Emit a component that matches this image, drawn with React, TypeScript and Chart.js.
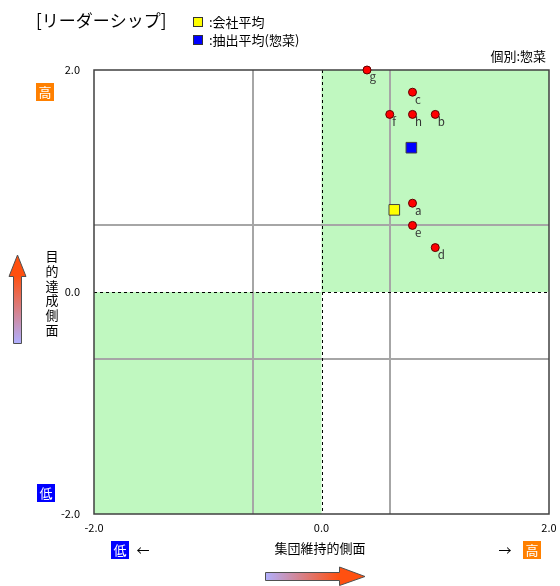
import React, { useEffect, useRef } from 'react';
import { Chart, registerables } from 'chart.js';

Chart.register(...registerables);

const FONT = '"Noto Sans CJK JP", "Noto Sans", sans-serif';

// ---- data ----
const pointLabels = ['a', 'b', 'c', 'd', 'e', 'f', 'g', 'h'];
const pointX = [0.8, 1.0, 0.8, 1.0, 0.8, 0.6, 0.4, 0.8];
const pointY = [0.8, 1.6, 1.8, 0.4, 0.6, 1.6, 2.0, 1.6];
const companyAvg = { x: 0.64, y: 0.74 };
const extractAvg = { x: 0.79, y: 1.3 };
const refLines = [-0.6, 0.6];
const axisTicks = [-2, 0, 2];

const titleText = '[リーダーシップ]';
const legendCompany = ':会社平均';
const legendExtract = ':抽出平均(惣菜)';
const subsetText = '個別:惣菜';
const yAxisTitle = ['目', '的', '達', '成', '側', '面'];
const xAxisTitle = '集団維持的側面';

const decorPlugin = {
  id: 'decor',
  beforeDatasetsDraw(chart: any) {
    const ctx = chart.ctx as CanvasRenderingContext2D;
    const { left, right, top, bottom } = chart.chartArea;
    const xs = chart.scales.x;
    const ys = chart.scales.y;
    const x0 = xs.getPixelForValue(0);
    const y0 = ys.getPixelForValue(0);
    ctx.save();
    ctx.fillStyle = '#ffffff';
    ctx.fillRect(left, top, right - left, bottom - top);
    ctx.fillStyle = '#c0f8c0';
    ctx.fillRect(x0, top, right - x0, y0 - top);
    ctx.fillRect(left, y0, x0 - left, bottom - y0);
    // reference lines
    ctx.strokeStyle = '#a6a6a6';
    ctx.lineWidth = 2;
    refLines.forEach((v) => {
      const px = Math.round(xs.getPixelForValue(v));
      ctx.beginPath();
      ctx.moveTo(px, top);
      ctx.lineTo(px, bottom);
      ctx.stroke();
      const py = Math.round(ys.getPixelForValue(v));
      ctx.beginPath();
      ctx.moveTo(left, py);
      ctx.lineTo(right, py);
      ctx.stroke();
    });
    // dashed zero lines
    ctx.strokeStyle = '#000000';
    ctx.lineWidth = 1;
    ctx.setLineDash([3, 3]);
    ctx.beginPath();
    ctx.moveTo(Math.round(x0) + 0.5, top);
    ctx.lineTo(Math.round(x0) + 0.5, bottom);
    ctx.moveTo(left, Math.round(y0) + 0.5);
    ctx.lineTo(right, Math.round(y0) + 0.5);
    ctx.stroke();
    ctx.setLineDash([]);
    // border
    ctx.strokeStyle = '#404040';
    ctx.lineWidth = 1.5;
    ctx.strokeRect(left, top, right - left, bottom - top);
    ctx.restore();
  },
  afterDatasetsDraw(chart: any) {
    const ctx = chart.ctx as CanvasRenderingContext2D;
    const meta = chart.getDatasetMeta(0);
    ctx.save();
    ctx.font = `11.5px ${FONT}`;
    ctx.fillStyle = '#333333';
    ctx.textAlign = 'left';
    ctx.textBaseline = 'middle';
    meta.data.forEach((el: any, i: number) => {
      ctx.fillText(pointLabels[i], el.x + 2.5, el.y + 7);
    });
    ctx.restore();
  },
  afterDraw(chart: any) {
    const ctx = chart.ctx as CanvasRenderingContext2D;
    ctx.save();
    // title
    ctx.fillStyle = '#000000';
    ctx.font = `17px ${FONT}`;
    ctx.textAlign = 'left';
    ctx.textBaseline = 'middle';
    ctx.fillText(titleText, 36, 21);
    // legend
    ctx.lineWidth = 1;
    ctx.strokeStyle = '#333333';
    ctx.fillStyle = '#ffff00';
    ctx.fillRect(193.5, 17.5, 9, 9);
    ctx.strokeRect(193.5, 17.5, 9, 9);
    ctx.fillStyle = '#0000ff';
    ctx.fillRect(193.5, 35.5, 9, 9);
    ctx.strokeRect(193.5, 35.5, 9, 9);
    ctx.fillStyle = '#000000';
    ctx.font = `13px ${FONT}`;
    ctx.fillText(legendCompany, 209, 22);
    ctx.fillText(legendExtract, 209, 40);
    ctx.textAlign = 'right';
    ctx.fillText(subsetText, 546, 56);

    // boxes
    const box = (x: number, y: number, color: string, t: string) => {
      ctx.fillStyle = color;
      ctx.fillRect(x, y, 18, 18);
      ctx.fillStyle = '#ffffff';
      ctx.font = `13px ${FONT}`;
      ctx.textAlign = 'center';
      ctx.textBaseline = 'middle';
      ctx.fillText(t, x + 9, y + 9.5);
    };
    box(36, 83, '#ff8000', '高');
    box(37, 484, '#0000ff', '低');
    box(111, 541, '#0000ff', '低');
    box(523, 541, '#ff8000', '高');

    // arrows text
    ctx.fillStyle = '#000000';
    ctx.font = `13px ${FONT}`;
    ctx.textAlign = 'center';
    ctx.textBaseline = 'middle';
    ctx.fillText('←', 143, 550);
    ctx.fillText('→', 505, 550);
    ctx.fillText(xAxisTitle, 320, 548);
    yAxisTitle.forEach((c, i) => {
      ctx.fillText(c, 52, 256 + i * 14.8);
    });

    // vertical arrow
    let g = ctx.createLinearGradient(0, 343, 0, 276);
    g.addColorStop(0, '#b0b0ff');
    g.addColorStop(1, '#ff5010');
    ctx.fillStyle = g;
    ctx.strokeStyle = '#505050';
    ctx.lineWidth = 1;
    ctx.beginPath();
    ctx.moveTo(13.5, 343.5);
    ctx.lineTo(13.5, 276.5);
    ctx.lineTo(9, 276.5);
    ctx.lineTo(17.5, 255);
    ctx.lineTo(26, 276.5);
    ctx.lineTo(21.5, 276.5);
    ctx.lineTo(21.5, 343.5);
    ctx.closePath();
    ctx.fill();
    ctx.stroke();

    // horizontal arrow
    g = ctx.createLinearGradient(265, 0, 339, 0);
    g.addColorStop(0, '#b0b0ff');
    g.addColorStop(1, '#ff5010');
    ctx.fillStyle = g;
    ctx.beginPath();
    ctx.moveTo(265.5, 572.5);
    ctx.lineTo(339.5, 572.5);
    ctx.lineTo(339.5, 567);
    ctx.lineTo(365, 576.5);
    ctx.lineTo(339.5, 585.5);
    ctx.lineTo(339.5, 580.5);
    ctx.lineTo(265.5, 580.5);
    ctx.closePath();
    ctx.fill();
    ctx.stroke();
    ctx.restore();
  },
};

export default function App() {
  const ref = useRef<HTMLCanvasElement>(null);
  useEffect(() => {
    const canvas = ref.current;
    if (!canvas) return;
    const tickOpts = (pad: number) => ({
      padding: pad,
      color: '#000000',
      font: { family: FONT, size: 11 },
      autoSkip: false,
      maxRotation: 0,
      callback: (v: any) => Number(v).toFixed(1),
    });
    const chart = new Chart(canvas, {
      type: 'scatter',
      data: {
        datasets: [
          {
            label: 'points',
            data: pointX.map((x, i) => ({ x, y: pointY[i] })),
            pointStyle: 'circle',
            pointRadius: 4,
            pointBackgroundColor: '#ff0000',
            pointBorderColor: '#600000',
            pointBorderWidth: 1,
            clip: false as any,
          },
          {
            label: legendCompany,
            data: [companyAvg],
            pointStyle: 'rect',
            pointRadius: 7.5,
            pointBackgroundColor: '#ffff00',
            pointBorderColor: '#404040',
            pointBorderWidth: 1,
            clip: false as any,
          },
          {
            label: legendExtract,
            data: [extractAvg],
            pointStyle: 'rect',
            pointRadius: 7.5,
            pointBackgroundColor: '#0000ff',
            pointBorderColor: '#404040',
            pointBorderWidth: 1,
            clip: false as any,
          },
        ],
      },
      options: {
        animation: false,
        responsive: false,
        devicePixelRatio: 1,
        layout: { padding: { left: 54, top: 70, right: 11, bottom: 50 } },
        plugins: { legend: { display: false }, tooltip: { enabled: false } },
        scales: {
          x: {
            type: 'linear',
            min: -2,
            max: 2,
            grid: { display: false, drawTicks: false },
            border: { display: false },
            ticks: tickOpts(7) as any,
            afterBuildTicks: (s: any) => {
              s.ticks = axisTicks.map((v) => ({ value: v }));
            },
            afterFit: (s: any) => {
              s.height = 22;
              s.paddingLeft = 0;
              s.paddingRight = 0;
            },
          },
          y: {
            type: 'linear',
            min: -2,
            max: 2,
            grid: { display: false, drawTicks: false },
            border: { display: false },
            ticks: tickOpts(14) as any,
            afterBuildTicks: (s: any) => {
              s.ticks = axisTicks.map((v) => ({ value: v }));
            },
            afterFit: (s: any) => {
              s.width = 40;
              s.paddingTop = 0;
              s.paddingBottom = 0;
            },
          },
        },
      },
      plugins: [decorPlugin],
    });
    return () => chart.destroy();
  }, []);
  return (
    <div style={{ position: 'absolute', left: 0, top: 0, width: 560, height: 586, background: '#ffffff' }}>
      <canvas ref={ref} width={560} height={586} style={{ display: 'block' }} />
    </div>
  );
}
